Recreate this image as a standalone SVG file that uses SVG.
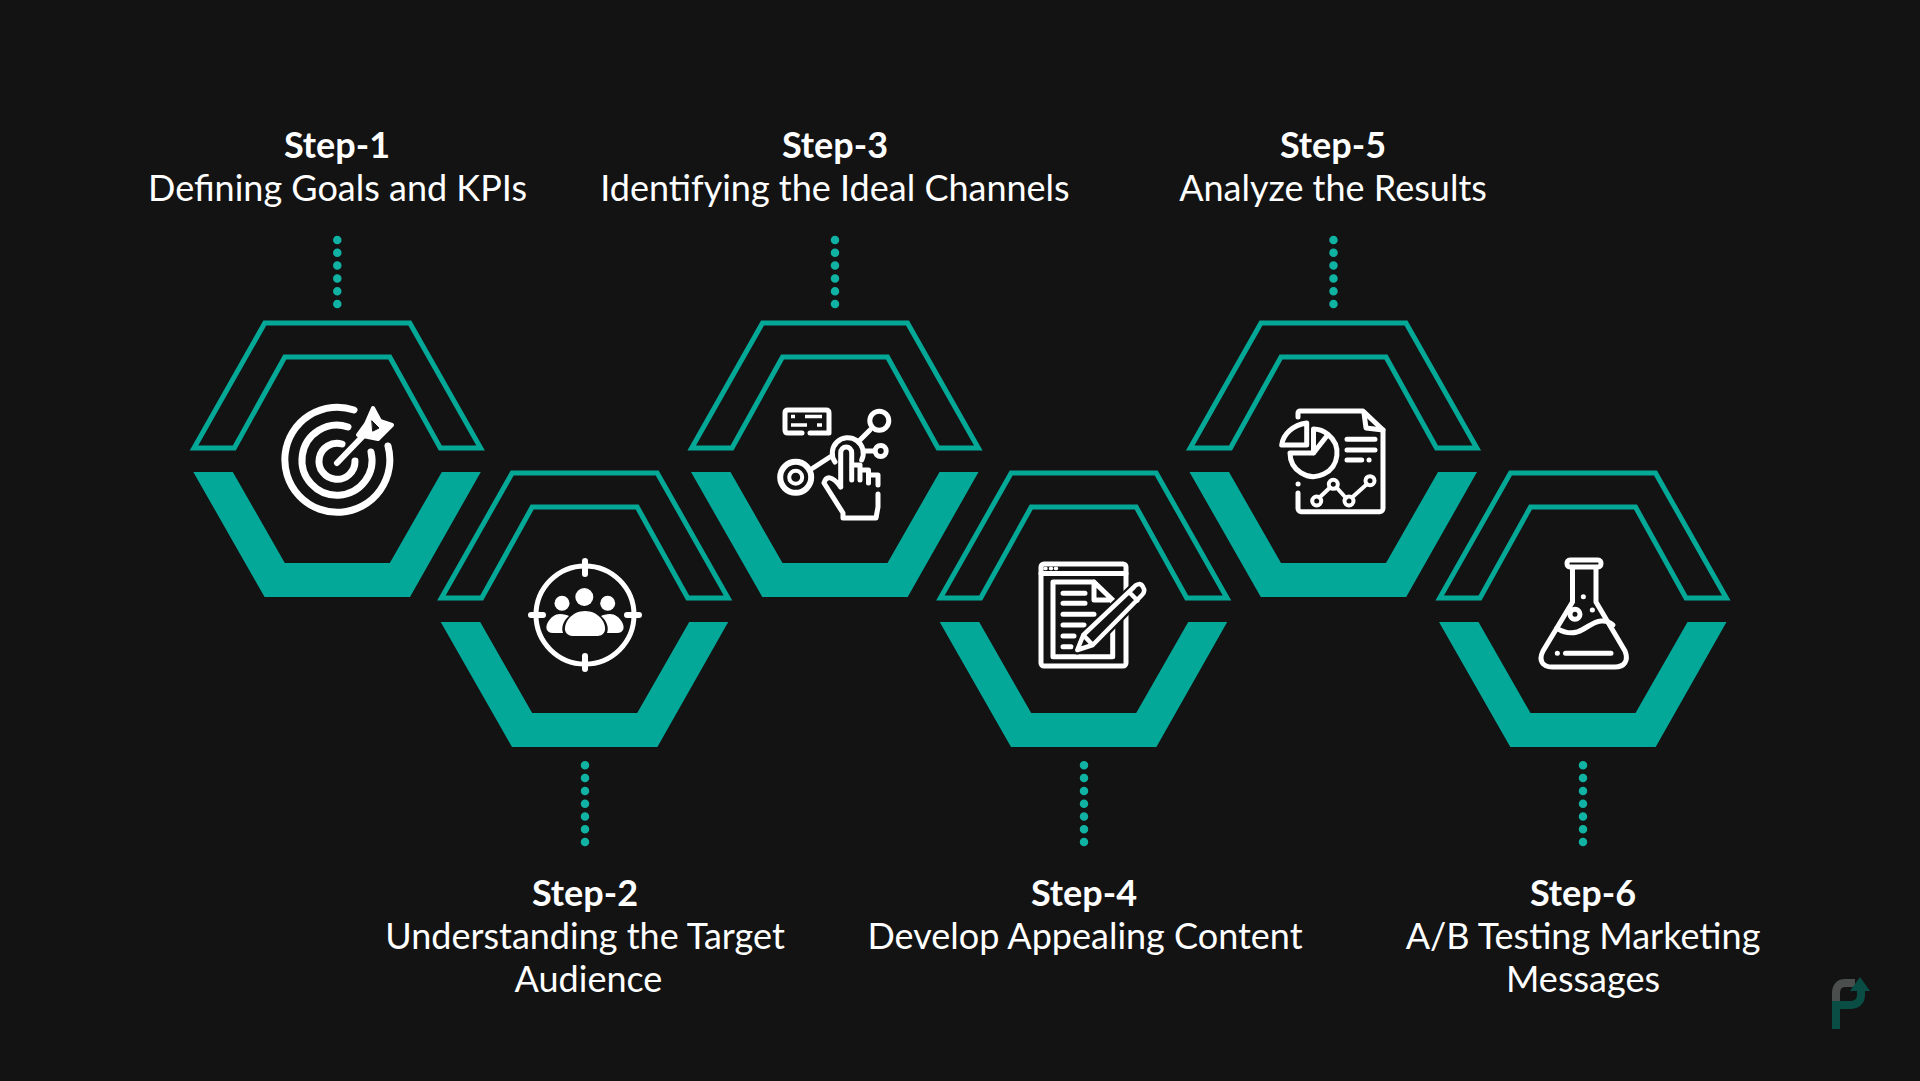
<svg xmlns="http://www.w3.org/2000/svg" xmlns:xlink="http://www.w3.org/1999/xlink" width="1920" height="1081" viewBox="0 0 1920 1081">
<style>
.bg{fill:#131313}
.o{fill:none;stroke:#04a897;stroke-width:5;stroke-linejoin:miter}
.f{fill:#03a898}
.d{fill:none;stroke:#10b3a3;stroke-width:8.500;stroke-linecap:round;stroke-dasharray:0 12.8}
.i{fill:none;stroke:#fff;stroke-width:5;stroke-linecap:round;stroke-linejoin:round}
.w{fill:#fff}
text{font-family:Lato,"Liberation Sans",sans-serif;font-size:36px;fill:#fff;text-anchor:middle}
.b{font-weight:700}
</style>
<defs>
<g id="hex">
<path class="o" d="M-72.500-126H72.500L143.300-1H103L52.500-92H-52.500L-103-1H-143.300Z"/>
<path class="f" d="M-144 23H-104.500L-52.500 114H52.500L104.500 23H143.500L72.700 148H-72.700Z"/>
</g>
</defs>
<rect class="bg" width="1920" height="1081"/>
<g id="connectors">
<path class="d" d="M337.300 240V304.500"/>
<path class="d" d="M585 765.300V842.500"/>
<path class="d" d="M835 240V304.500"/>
<path class="d" d="M1084 765.300V842.500"/>
<path class="d" d="M1333.500 240V304.500"/>
<path class="d" d="M1583 765.300V842.500"/>
</g>
<g id="step1"><use xlink:href="#hex" href="#hex" x="337.300" y="449"/>
<text class="b" x="337" y="158">Step-1</text><text x="337.500" y="201">Defining Goals and KPIs</text>
<g class="i" style="stroke-width:7">
<path d="M354 410A52.500 52.500 0 1 0 388 446"/>
<path d="M348 427A35 35 0 1 0 371 452"/>
<path d="M342 444A18 18 0 1 0 355 461"/>
<path d="M337 463L362 437" style="stroke-width:6"/>
<path class="w" d="M373 408L380 421L392 425L378 439L358 435L366 424Z" style="fill:#fff;stroke-width:4"/>
<path d="M372 421L379 428L373 431Z" style="fill:#131313;stroke:#131313;stroke-width:1"/>
</g>
</g>
<g id="step2"><use xlink:href="#hex" href="#hex" x="584.700" y="599"/>
<text class="b" x="585" y="906">Step-2</text><text x="585" y="949">Understanding the Target</text><text x="588.500" y="992">Audience</text>
<g class="i">
<circle cx="585" cy="615" r="49"/>
<path d="M585 561V574M585 656V669M531 615H543M627 615H639" style="stroke-width:6"/>
</g>
<g class="w">
<circle cx="584.300" cy="597" r="9"/><circle cx="562" cy="603.300" r="7.500"/><circle cx="607.700" cy="603.300" r="7.500"/>
<path d="M585 611C598 611 606 622 605 630C604 635 600 636 596 636H574C569 636 566 634 565 630C564 622 572 611 585 611Z"/>
<path d="M560 614C564 614 567 615 569 616C563 621 561 628 563 633H553C546 633 545 627 548 622C551 617 555 614 560 614ZM610 614C606 614 603 615 601 616C607 621 609 628 607 633H617C624 633 625 627 622 622C619 617 615 614 610 614Z"/>
</g>
</g>
<g id="step3"><use xlink:href="#hex" href="#hex" x="835" y="449"/>
<text class="b" x="835" y="158">Step-3</text><text x="835" y="201">Identifying the Ideal Channels</text>
<g class="i">
<path d="M802 433H788C786 433 785 432 785 430V413C785 411 786 410 788 410H826C828 410 829 411 829 413V433H810"/>
<path d="M791 416.500H795M805 416.500H822M791 425H807M817 425H822" style="stroke-width:3.500;stroke-linecap:butt"/>
<circle cx="795.700" cy="477.300" r="15.500" style="stroke-width:6"/><circle cx="795.700" cy="477.300" r="6.500" style="stroke-width:4"/>
<path d="M813 468L830 457"/>
<circle cx="879.300" cy="420.700" r="9.500"/><circle cx="880.700" cy="451" r="5.500"/>
<path d="M860 440L870 430M865 451H873"/>
<path d="M835 462A15.500 15.500 0 1 1 861.700 460"/>
<path d="M840.700 487V453C840.700 445 851.700 445 851.700 453V480M851.700 465H860V480M860 470H868.500V483M868.500 475H878V485M878 494V507L876 518H843V513L824 483C826 476 832 475 840.700 487"/>
</g>
</g>
<g id="step4"><use xlink:href="#hex" href="#hex" x="1083.700" y="599"/>
<text class="b" x="1084" y="906">Step-4</text><text x="1085" y="949">Develop Appealing Content</text>
<g class="i">
<rect x="1041" y="564" width="85" height="102" rx="3"/>
<path d="M1041 573.500H1126"/>
<path d="M1045 568.500H1046M1050.500 568.500H1051.500M1055.500 568.500H1056.500" style="stroke-width:3.500"/>
<path d="M1094 582H1053V656.700H1112.700V600L1094 582V600H1112.700"/>
<path d="M1063 593.300H1085M1063 603.300H1085M1063 614.300H1094M1063 625H1084M1063 636H1074M1063 646.700H1071"/>
<path d="M1077.300 650L1083.300 635L1133 588C1137 583 1141 583 1143 587C1145 590 1144 593 1142 595L1092.700 645Z" style="fill:#131313;stroke:#131313;stroke-width:9"/>
<path d="M1077.300 650L1083.300 635L1133 588C1137 583 1141 583 1143 587C1145 590 1144 593 1142 595L1092.700 645ZM1083.300 635L1092.700 645M1129 592L1137.500 600.500" style="stroke-width:4.500"/>
</g>
</g>
<g id="step5"><use xlink:href="#hex" href="#hex" x="1333.500" y="449"/>
<text class="b" x="1333" y="158">Step-5</text><text x="1333" y="201">Analyze the Results</text>
<g class="i">
<path d="M1298 417V413C1298 412 1299 411 1300 411H1363L1383 430V508C1383 510 1382 511.700 1380 511.700H1301C1299 511.700 1298 510 1298 508V493"/>
<path d="M1364 413L1366 428L1383 430"/>
<path d="M1298 484H1298.100"/>
<path d="M1306.700 423C1293 425 1283 434 1281.700 445H1306.700Z"/>
<path d="M1313.500 429V453H1290A23.500 23.500 0 1 0 1328 434.500L1313.500 453M1313.500 429C1319 429 1324 431 1328 434.500"/>
<path d="M1347 439.300H1375M1347 450H1375M1347 460H1361.700M1369 460H1369.100"/>
<path d="M1319.500 497.500L1330 487.500M1336.500 487.500L1346 498M1352 497.500L1367 484" style="stroke-width:4"/>
<g style="stroke-width:4"><circle cx="1316.700" cy="501" r="4.500"/><circle cx="1333.300" cy="484.300" r="4.500"/><circle cx="1349" cy="501" r="4.500"/><circle cx="1370" cy="480.700" r="4.500"/></g>
</g>
</g>
<g id="step6"><use xlink:href="#hex" href="#hex" x="1583" y="599"/>
<text class="b" x="1583" y="906">Step-6</text><text x="1583" y="949">A/B Testing Marketing</text><text x="1583" y="992">Messages</text>
<g class="i">
<path d="M1570 560H1598C1602 560 1602 567 1598 567H1570C1566 567 1566 560 1570 560ZM1572.500 567V602L1543 651C1538 661 1543 667 1552 667H1615C1624 667 1629 661 1625 651L1596 602V567"/>
<path d="M1556.700 628.300C1563 632 1570 634 1577 632C1586 629 1592 622 1601 621C1606 620.500 1610 622 1613 625"/>
<circle cx="1575" cy="614.300" r="5"/>
<path d="M1557.300 653.300H1557.400M1565.500 653.300H1611"/>
<path d="M1583.300 596.700H1583.400M1592.300 610H1592.400"/>
</g>
</g>
<g id="logo" fill="none" stroke-width="8">
<path d="M1836 1002V993C1836 987 1839 983 1845 983H1855" stroke="#4a4f4e"/>
<path d="M1836 1029V1005H1850C1857 1005 1861 1001 1861 995V988" stroke="#0a4d45"/>
<path d="M1850 991L1860 977L1870 991Z" fill="#0a4d45" stroke="none"/>
</g>
</svg>
